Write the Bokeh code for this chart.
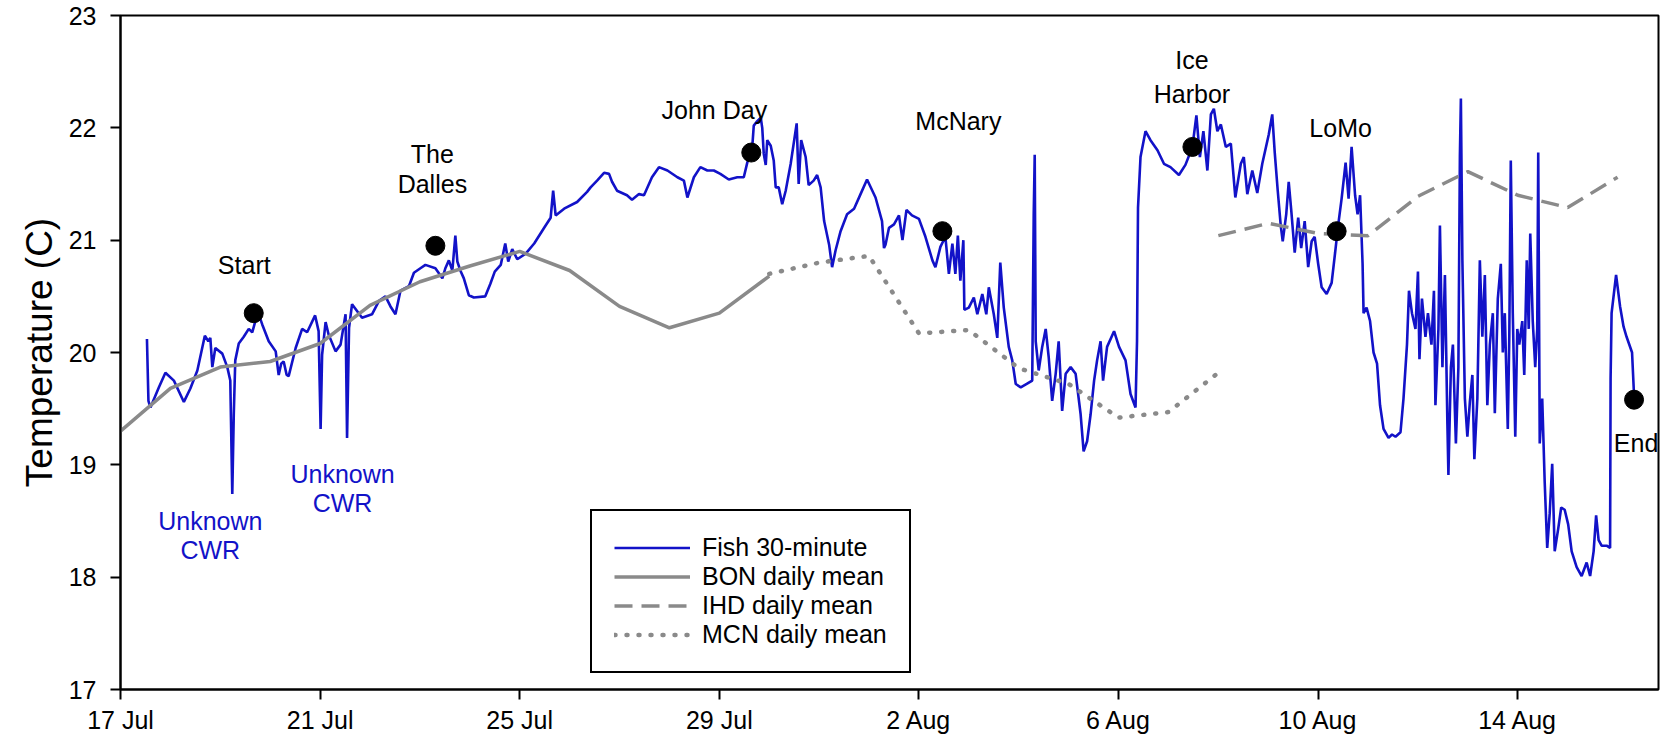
from bokeh.plotting import figure
from bokeh.models import Range1d, FixedTicker, Legend, LegendItem
from bokeh.embed import file_html
from bokeh.resources import INLINE
from bokeh.core.properties import value

# ---- data (days since 17 Jul 00:00, temperature in C) ----
fish_day = [
    0.53, 0.56, 0.60, 0.77, 0.90, 1.07, 1.27, 1.40, 1.54, 1.69, 1.76, 1.80, 1.84, 1.90, 2.04, 2.14, 2.20, 2.24, 2.27, 2.30,
    2.37, 2.47, 2.57, 2.64, 2.71, 2.77, 2.84, 2.97, 3.11, 3.17, 3.22, 3.27, 3.33, 3.37, 3.51, 3.64, 3.74, 3.90, 3.97, 4.01,
    4.04, 4.11, 4.17, 4.31, 4.41, 4.51, 4.54, 4.58, 4.64, 4.74, 4.84, 5.04, 5.18, 5.31, 5.41, 5.51, 5.61, 5.78, 5.88, 6.01,
    6.11, 6.31, 6.45, 6.51, 6.58, 6.65, 6.71, 6.75, 6.81, 6.88, 6.98, 7.08, 7.31, 7.41, 7.50, 7.62, 7.71, 7.77, 7.85, 7.95,
    8.12, 8.29, 8.49, 8.62, 8.67, 8.72, 8.89, 9.15, 9.35, 9.42, 9.55, 9.69, 9.79, 9.85, 9.95, 10.15, 10.25, 10.39, 10.49, 10.65,
    10.79, 10.96, 11.16, 11.29, 11.36, 11.49, 11.62, 11.76, 11.89, 12.02, 12.19, 12.36, 12.49, 12.56, 12.66, 12.69, 12.76, 12.83, 12.86, 12.89,
    12.93, 12.96, 13.03, 13.09, 13.13, 13.19, 13.26, 13.33, 13.43, 13.55, 13.59, 13.64, 13.73, 13.79, 13.89, 13.96, 14.03, 14.10, 14.20, 14.26,
    14.33, 14.43, 14.56, 14.70, 14.83, 14.96, 15.13, 15.26, 15.30, 15.33, 15.40, 15.50, 15.60, 15.67, 15.75, 15.86, 16.00, 16.13, 16.27, 16.33,
    16.43, 16.53, 16.60, 16.67, 16.73, 16.78, 16.83, 16.89, 16.91, 17.00, 17.10, 17.17, 17.27, 17.35, 17.40, 17.50, 17.57, 17.63, 17.70, 17.80,
    17.87, 17.94, 18.04, 18.16, 18.27, 18.30, 18.32, 18.34, 18.40, 18.47, 18.54, 18.60, 18.67, 18.74, 18.80, 18.87, 18.94, 19.04, 19.14, 19.24,
    19.30, 19.37, 19.44, 19.51, 19.57, 19.64, 19.69, 19.77, 19.91, 20.01, 20.14, 20.24, 20.34, 20.37, 20.39, 20.44, 20.54, 20.64, 20.78, 20.91,
    21.04, 21.21, 21.34, 21.48, 21.56, 21.63, 21.70, 21.78, 21.85, 21.91, 21.98, 22.05, 22.15, 22.25, 22.34, 22.45, 22.51, 22.58, 22.68, 22.78,
    22.88, 23.01, 23.08, 23.13, 23.19, 23.25, 23.29, 23.36, 23.41, 23.46, 23.53, 23.60, 23.66, 23.73, 23.80, 23.87, 23.93, 24.00, 24.07, 24.17,
    24.27, 24.34, 24.40, 24.47, 24.55, 24.61, 24.67, 24.74, 24.79, 24.84, 24.89, 24.91, 24.97, 25.04, 25.11, 25.18, 25.24, 25.31, 25.41, 25.48,
    25.55, 25.65, 25.71, 25.78, 25.82, 25.88, 25.95, 26.00, 26.03, 26.08, 26.15, 26.20, 26.27, 26.32, 26.35, 26.41, 26.44, 26.49, 26.54, 26.59,
    26.61, 26.66, 26.70, 26.76, 26.81, 26.84, 26.86, 26.89, 26.94, 26.99, 27.04, 27.09, 27.13, 27.19, 27.24, 27.29, 27.34, 27.39, 27.44, 27.50,
    27.54, 27.60, 27.66, 27.70, 27.74, 27.80, 27.83, 27.86, 27.90, 27.95, 27.99, 28.03, 28.09, 28.13, 28.18, 28.22, 28.25, 28.30, 28.35, 28.39,
    28.41, 28.44, 28.49, 28.54, 28.59, 28.64, 28.69, 28.74, 28.81, 28.87, 28.94, 29.01, 29.08, 29.18, 29.28, 29.38, 29.45, 29.52, 29.57, 29.62,
    29.68, 29.78, 29.85, 29.86, 29.88, 29.97, 30.05, 30.12, 30.18, 30.29, 30.33,
]
fish_temp = [
    20.12, 19.57, 19.51, 19.69, 19.82, 19.75, 19.56, 19.68, 19.84, 20.15, 20.10, 20.13, 19.87, 20.04, 19.99, 19.87, 19.75, 18.74, 19.45, 19.93,
    20.08, 20.14, 20.21, 20.18, 20.29, 20.34, 20.25, 20.10, 20.01, 19.80, 19.90, 19.92, 19.80, 19.79, 20.04, 20.21, 20.18, 20.33, 20.19, 19.32,
    19.98, 20.27, 20.16, 20.01, 20.07, 20.34, 19.24, 20.22, 20.43, 20.37, 20.31, 20.34, 20.46, 20.50, 20.41, 20.34, 20.55, 20.59, 20.71, 20.75,
    20.78, 20.75, 20.66, 20.75, 20.82, 20.73, 21.04, 20.81, 20.73, 20.66, 20.51, 20.49, 20.50, 20.61, 20.72, 20.78, 20.97, 20.81, 20.92, 20.83,
    20.88, 20.97, 21.11, 21.20, 21.44, 21.22, 21.28, 21.34, 21.43, 21.47, 21.53, 21.60, 21.59, 21.52, 21.44, 21.40, 21.36, 21.41, 21.40, 21.56,
    21.65, 21.62, 21.56, 21.53, 21.38, 21.56, 21.65, 21.62, 21.62, 21.59, 21.54, 21.56, 21.56, 21.69, 21.83, 22.02, 22.06, 22.09, 22.00, 21.77,
    21.67, 21.89, 21.84, 21.71, 21.47, 21.47, 21.32, 21.44, 21.68, 22.04, 21.50, 21.89, 21.74, 21.49, 21.53, 21.58, 21.47, 21.17, 20.96, 20.76,
    20.91, 21.08, 21.23, 21.28, 21.41, 21.54, 21.38, 21.17, 20.93, 20.96, 21.11, 21.14, 21.22, 21.00, 21.27, 21.22, 21.19, 21.03, 20.82, 20.76,
    20.94, 21.03, 20.70, 20.97, 20.70, 21.04, 20.64, 21.00, 20.38, 20.40, 20.49, 20.34, 20.52, 20.34, 20.58, 20.34, 20.13, 20.80, 20.40, 20.05,
    19.93, 19.72, 19.69, 19.72, 19.75, 21.23, 21.76, 20.10, 19.84, 20.05, 20.21, 19.96, 19.57, 19.81, 20.10, 19.48, 19.81, 19.87, 19.81, 19.45,
    19.12, 19.21, 19.45, 19.75, 19.93, 20.10, 19.75, 20.05, 20.19, 20.05, 19.93, 19.63, 19.51, 20.10, 21.29, 21.74, 21.97, 21.89, 21.80, 21.68,
    21.65, 21.58, 21.67, 21.83, 22.11, 21.74, 21.97, 21.62, 22.12, 22.17, 21.97, 22.03, 21.83, 21.86, 21.38, 21.68, 21.74, 21.41, 21.62, 21.42,
    21.68, 21.94, 22.12, 21.78, 21.44, 21.13, 20.99, 21.23, 21.52, 21.27, 20.89, 21.20, 20.93, 21.17, 20.76, 20.99, 21.03, 20.79, 20.58, 20.52,
    20.62, 20.89, 21.13, 21.37, 21.69, 21.37, 21.83, 21.40, 21.23, 21.40, 20.79, 20.35, 20.40, 20.28, 20.00, 19.90, 19.53, 19.32, 19.24, 19.27,
    19.25, 19.29, 19.59, 20.07, 20.55, 20.35, 20.21, 20.72, 19.94, 20.48, 20.14, 20.35, 20.07, 20.55, 19.53, 20.21, 21.13, 19.87, 20.69, 19.36,
    18.91, 19.87, 20.07, 19.19, 19.87, 21.75, 22.26, 20.82, 19.59, 19.25, 19.56, 19.80, 19.05, 19.59, 20.82, 20.14, 20.69, 19.53, 20.07, 20.35,
    19.46, 20.48, 20.79, 20.00, 20.35, 19.32, 20.14, 21.71, 20.35, 19.25, 20.21, 20.07, 20.28, 19.80, 20.82, 20.21, 21.06, 20.28, 19.87, 20.21,
    21.78, 19.19, 19.59, 18.84, 18.26, 18.57, 19.01, 18.23, 18.43, 18.62, 18.60, 18.47, 18.23, 18.09, 18.01, 18.13, 18.01, 18.23, 18.55, 18.33,
    18.28, 18.28, 18.26, 19.77, 20.35, 20.69, 20.41, 20.23, 20.14, 20.00, 19.62,
]

bon_day = [0, 1, 2, 3, 4, 5, 6, 7, 8, 9, 10, 11, 12, 13]
bon_temp = [19.30, 19.68, 19.87, 19.92, 20.08, 20.42, 20.63, 20.77, 20.90, 20.73, 20.41, 20.22, 20.35, 20.68]

mcn_day = [13, 14, 15, 16, 17, 18, 19, 20, 21, 22]
mcn_temp = [20.70, 20.80, 20.86, 20.17, 20.20, 19.86, 19.72, 19.42, 19.47, 19.82]

ihd_day = [22, 23, 24, 25, 26, 27, 28, 29, 30]
ihd_temp = [21.04, 21.15, 21.06, 21.04, 21.39, 21.61, 21.40, 21.29, 21.56]

site_day = [2.67, 6.31, 12.64, 16.47, 21.48, 24.37, 30.33]
site_temp = [20.35, 20.95, 21.78, 21.08, 21.83, 21.08, 19.58]

label_text = ["Start", "The", "Dalles", "John Day", "McNary", "Ice", "Harbor", "LoMo", "End"]
label_day = [2.48, 6.25, 6.25, 11.90, 16.79, 21.47, 21.47, 24.45, 30.37]
label_temp = [20.78, 21.77, 21.50, 22.16, 22.06, 22.60, 22.30, 22.00, 19.19]

cwr_text = ["Unknown", "CWR", "Unknown", "CWR"]
cwr_day = [1.80, 1.80, 4.45, 4.45]
cwr_temp = [18.50, 18.24, 18.92, 18.66]

x_tick_days = [0, 4, 8, 12, 16, 20, 24, 28]
x_tick_labels = ["17 Jul", "21 Jul", "25 Jul", "29 Jul", "2 Aug", "6 Aug", "10 Aug", "14 Aug"]
y_ticks = [17, 18, 19, 20, 21, 22, 23]

FONT = "Liberation Sans"
BLUE = "#1212c8"
GRAY = "#8a8a8a"

p = figure(width=1664, height=745, x_range=Range1d(0, 30.82), y_range=Range1d(17, 23),
           output_backend="svg", toolbar_location=None,
           min_border_left=120, min_border_right=6, min_border_top=15, min_border_bottom=56)
p.xgrid.grid_line_color = None
p.ygrid.grid_line_color = None
p.outline_line_color = "black"
p.outline_line_width = 2
p.outline_line_alpha = 1
p.background_fill_color = "white"
p.border_fill_color = "white"

p.xaxis.ticker = FixedTicker(ticks=x_tick_days)
p.xaxis.major_label_overrides = {d: lab for d, lab in zip(x_tick_days, x_tick_labels)}
p.yaxis.ticker = FixedTicker(ticks=y_ticks)
for ax in (p.xaxis, p.yaxis):
    ax.axis_line_width = 2
    ax.axis_line_color = "black"
    ax.major_tick_line_width = 2
    ax.major_tick_line_color = "black"
    ax.major_tick_in = 0
    ax.major_tick_out = 10
    ax.minor_tick_line_color = None
    ax.major_label_text_font = FONT
    ax.major_label_text_font_size = "25px"
    ax.major_label_text_color = "black"
p.xaxis.major_label_standoff = 6
p.yaxis.major_label_standoff = 14
p.yaxis.axis_label = "Temperature (C)"
p.yaxis.axis_label_text_font = FONT
p.yaxis.axis_label_text_font_size = "37px"
p.yaxis.axis_label_text_font_style = "normal"
p.yaxis.axis_label_text_color = "black"
p.yaxis.axis_label_standoff = 6

r_fish = p.line(fish_day, fish_temp, line_color=BLUE, line_width=2.6)
r_bon = p.line(bon_day, bon_temp, line_color=GRAY, line_width=3.5)
r_ihd = p.line(ihd_day, ihd_temp, line_color=GRAY, line_width=3.5, line_dash="18 9")
r_mcn = p.line(mcn_day, mcn_temp, line_color=GRAY, line_width=4.5, line_dash="1 11", line_cap="round")

p.scatter(site_day, site_temp, size=19, fill_color="black", line_color="black")

p.text(x=label_day, y=label_temp, text=label_text, text_font=value(FONT),
       text_font_size=value("25px"), text_align="center", text_baseline="middle", text_color="black")
p.text(x=cwr_day, y=cwr_temp, text=cwr_text, text_font=value(FONT),
       text_font_size=value("25px"), text_align="center", text_baseline="middle", text_color=BLUE)

legend = Legend(items=[
    LegendItem(label="Fish 30-minute", renderers=[r_fish]),
    LegendItem(label="BON daily mean", renderers=[r_bon]),
    LegendItem(label="IHD daily mean", renderers=[r_ihd]),
    LegendItem(label="MCN daily mean", renderers=[r_mcn]),
], location=(470, 16))
legend.border_line_color = "black"
legend.border_line_width = 2
legend.border_line_alpha = 1
legend.background_fill_color = "white"
legend.background_fill_alpha = 1
legend.label_text_font = FONT
legend.label_text_font_size = "25px"
legend.label_text_color = "black"
legend.glyph_width = 76
legend.glyph_height = 25
legend.label_height = 25
legend.label_standoff = 12
legend.spacing = 0
legend.padding = 22
legend.margin = 0
p.add_layout(legend)

open("out.html", "w").write(file_html(p, INLINE))
